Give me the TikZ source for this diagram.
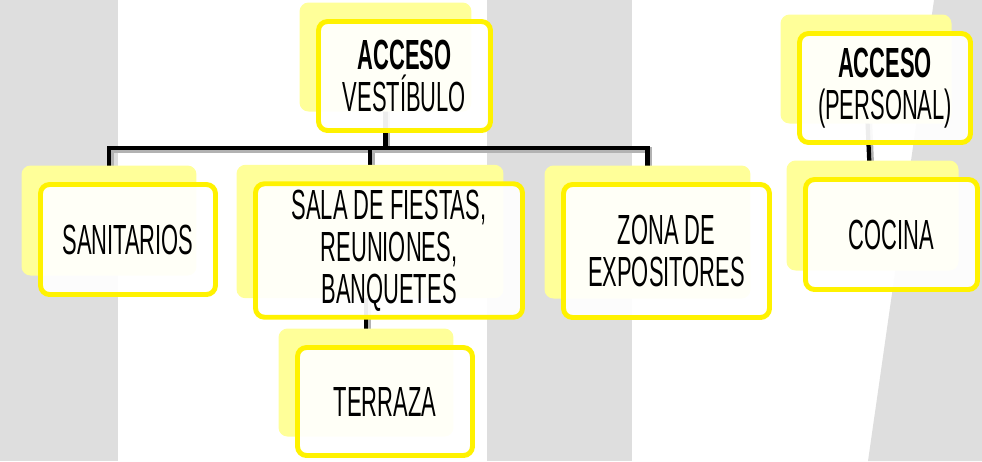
\documentclass[tikz,border=0pt]{standalone}
\usepackage{fontspec}
\setmainfont[FakeStretch=0.52]{Liberation Sans}
\usetikzlibrary{shadows, calc}
\definecolor{stripe}{HTML}{DEDEDE}
\definecolor{pale}{HTML}{FFFF99}
\pgfdeclarelayer{stripes}
\pgfdeclarelayer{links}
\pgfsetlayers{stripes,links,main}

\begin{document}
\begin{tikzpicture}[
        x=0.02cm, y=-0.02cm,
        font=\fontsize{24}{24}\selectfont,
        box/.style={draw=yellow, line width=2.8pt, fill=white, fill opacity=0.93, text opacity=1,
            rounded corners=0.18cm, align=center,
            copy shadow={shadow xshift=-0.38cm, shadow yshift=0.38cm, fill=pale, draw=none, fill opacity=1}},
        conn/.style={line width=2.4pt, black,
            preaction={draw, black!30, line width=3pt, transform canvas={shift={(1.2pt,-1.2pt)}}}}
    ]
        \useasboundingbox (0,0) rectangle (982,461);
        \begin{pgfonlayer}{stripes}
            \fill[stripe] (0,0) rectangle (118,461);
            \fill[stripe] (487,0) rectangle (632,461);
            \fill[stripe] (934,0) -- (982,0) -- (982,461) -- (868,461) -- cycle;
        \end{pgfonlayer}

        \node[box, minimum width=3.44cm, minimum height=2.18cm] (acc)  at (404.5,76)  {\textbf{ACCESO}\\VESTÍBULO};
        \node[box, minimum width=3.5cm,  minimum height=2.2cm]  (san)  at (128,239.5)  {SANITARIOS};
        \node[box, minimum width=5.34cm, minimum height=2.64cm] (sala) at (389,250.5)  {SALA DE FIESTAS,\\REUNIONES,\\BANQUETES};
        \node[box, minimum width=4.12cm, minimum height=2.66cm] (zona) at (666.5,251)  {ZONA DE\\EXPOSITORES};
        \node[box, minimum width=3.5cm,  minimum height=2.16cm] (terr) at (385,401.5)  {TERRAZA};
        \node[box, minimum width=3.42cm, minimum height=2.18cm] (accp) at (885,88)     {\textbf{ACCESO}\\(PERSONAL)};
        \node[box, minimum width=3.44cm, minimum height=2.2cm]  (coc)  at (891.5,234.5) {COCINA};

        \coordinate (bus) at (0,148);
        \begin{pgfonlayer}{links}
            \draw[conn] ([xshift=-0.38cm]acc.center) -- ([xshift=-0.38cm]acc.center |- bus);
            \draw[conn] ([xshift=-0.38cm]san.center) -- ([xshift=-0.38cm]san.center |- bus)
                -- ([xshift=-0.38cm]zona.center |- bus) -- ([xshift=-0.38cm]zona.center);
            \draw[conn] ([xshift=-0.38cm]sala.center |- bus) -- ([xshift=-0.38cm]sala.center);
            \draw[conn] ([xshift=-0.38cm]terr.center |- sala.center) -- ([xshift=-0.38cm]terr.center);
            \draw[conn] ([xshift=-0.38cm]accp.center) -- ([xshift=-0.38cm]coc.center);
        \end{pgfonlayer}
    \end{tikzpicture}
\end{document}
